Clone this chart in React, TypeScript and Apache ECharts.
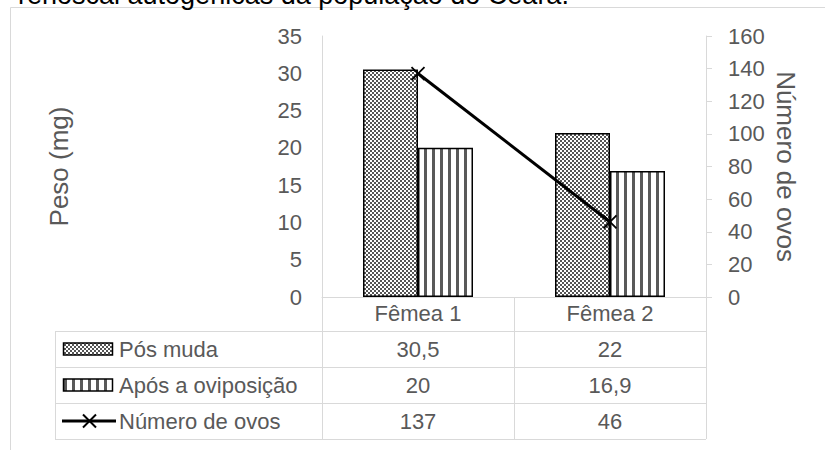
import { useEffect, useRef } from 'react';
import * as echarts from 'echarts';

// ---- data ----
const categories = ['Fêmea 1', 'Fêmea 2'];
const seriesNames = ['Pós muda', 'Após a oviposição', 'Número de ovos'];
const posMuda = [30.5, 22];
const aposOviposicao = [20, 16.9];
const numeroOvos = [137, 46];
const leftAxisName = 'Peso (mg)';
const rightAxisName = 'Número de ovos';
const leftRange = [0, 35, 5];
const rightRange = [0, 160, 20];
const caption = 'renoscal autogênicas da população do Ceará.';

const FONT = '"Liberation Sans", Arial, sans-serif';
const GRAY = '#595959';
const LINE = '#d9d9d9';

function makeChecker(): HTMLCanvasElement {
  const c = document.createElement('canvas');
  c.width = 4;
  c.height = 4;
  const g = c.getContext('2d')!;
  g.fillStyle = '#ffffff';
  g.fillRect(0, 0, 4, 4);
  g.fillStyle = '#555555';
  g.fillRect(0, 0, 2, 2);
  g.fillRect(2, 2, 2, 2);
  return c;
}

function makeStripes(): HTMLCanvasElement {
  const c = document.createElement('canvas');
  c.width = 8;
  c.height = 8;
  const g = c.getContext('2d')!;
  g.fillStyle = '#ffffff';
  g.fillRect(0, 0, 8, 8);
  g.fillStyle = '#595959';
  g.fillRect(0, 0, 3, 8);
  return c;
}

const fmt = (v: number) => String(v).replace('.', ',');

export default function App() {
  const ref = useRef<HTMLDivElement>(null);

  useEffect(() => {
    if (!ref.current) return;
    const chart = echarts.init(ref.current, null, { renderer: 'svg' });
    const checker = makeChecker();
    const stripes = makeStripes();
    const checkerFill: any = { image: checker, repeat: 'repeat' };
    const stripeFill: any = { image: stripes, repeat: 'repeat' };

    const gridLeft = 322;
    const gridRight = 706;
    const gridTop = 36;
    const gridBottom = 297;
    const rowH = 36;
    const headerBottom = 331;
    const tableLeft = 55;
    const tableBottom = headerBottom + rowH * 3;

    chart.setOption({
      animation: false,
      textStyle: { fontFamily: FONT },
      grid: { left: gridLeft, right: 825 - gridRight, top: gridTop, bottom: 450 - gridBottom },
      xAxis: {
        type: 'category',
        data: categories,
        axisLine: { show: true, lineStyle: { color: LINE, width: 1 } },
        axisTick: { show: true, length: tableBottom - gridBottom, lineStyle: { color: LINE, width: 1 } },
        axisLabel: { color: GRAY, fontSize: 22, margin: 5, fontFamily: FONT },
      },
      yAxis: [
        {
          type: 'value',
          min: leftRange[0],
          max: leftRange[1],
          interval: leftRange[2],
          position: 'left',
          name: leftAxisName,
          nameLocation: 'middle',
          nameGap: 250,
          nameRotate: 90,
          nameTextStyle: { fontSize: 26, color: GRAY, fontFamily: FONT },
          axisLine: { show: true, lineStyle: { color: LINE, width: 1 } },
          axisTick: { show: false },
          splitLine: { show: false },
          axisLabel: { color: GRAY, fontSize: 22, margin: 20, fontFamily: FONT },
        },
        {
          type: 'value',
          min: rightRange[0],
          max: rightRange[1],
          interval: rightRange[2],
          position: 'right',
          name: rightAxisName,
          nameLocation: 'middle',
          nameGap: 67,
          nameRotate: -90,
          nameTextStyle: { fontSize: 26, color: GRAY, fontFamily: FONT },
          axisLine: { show: true, lineStyle: { color: LINE, width: 1 } },
          axisTick: { show: true, length: 6, lineStyle: { color: LINE, width: 1 } },
          splitLine: { show: false },
          axisLabel: { color: GRAY, fontSize: 22, margin: 22, fontFamily: FONT },
        },
      ],
      series: [
        {
          type: 'bar',
          name: seriesNames[0],
          data: posMuda,
          barWidth: 55,
          barGap: '0%',
          itemStyle: { color: checkerFill, borderColor: '#000', borderWidth: 1.5 },
        },
        {
          type: 'bar',
          name: seriesNames[1],
          data: aposOviposicao,
          barWidth: 55,
          barGap: '0%',
          itemStyle: { color: stripeFill, borderColor: '#000', borderWidth: 1.5 },
        },
        {
          type: 'line',
          name: seriesNames[2],
          data: numeroOvos,
          yAxisIndex: 1,
          z: 10,
          lineStyle: { color: '#000', width: 3 },
          symbol: 'path://M0,0L10,10M10,0L0,10',
          symbolSize: 13,
          itemStyle: { color: '#000', borderColor: '#000', borderWidth: 1.8 },
        },
      ],
    });

    const cx = categories.map((c) => chart.convertToPixel({ xAxisIndex: 0 }, c) as number);
    const rowValues = [posMuda, aposOviposicao, numeroOvos];
    const graphics: any[] = [];

    graphics.push({
      type: 'rect',
      silent: true,
      z: -10,
      shape: { x: 10.5, y: 7.5, width: 900, height: 600 },
      style: { fill: 'none', stroke: LINE, lineWidth: 1 },
    });
    graphics.push({
      type: 'text',
      silent: true,
      x: 18,
      y: -5,
      style: { text: caption, fontSize: 27, fontFamily: FONT, fill: '#000', textVerticalAlign: 'middle' },
    });

    for (let i = 0; i <= 3; i++) {
      const y = headerBottom + rowH * i + 0.5;
      graphics.push({
        type: 'line',
        silent: true,
        shape: { x1: tableLeft, y1: y, x2: gridRight, y2: y },
        style: { stroke: LINE, lineWidth: 1 },
      });
    }
    graphics.push({
      type: 'line',
      silent: true,
      shape: { x1: tableLeft + 0.5, y1: headerBottom, x2: tableLeft + 0.5, y2: tableBottom },
      style: { stroke: LINE, lineWidth: 1 },
    });

    seriesNames.forEach((name, i) => {
      const cy = headerBottom + rowH * i + rowH / 2;
      if (i === 0 || i === 1) {
        graphics.push({
          type: 'rect',
          silent: true,
          shape: { x: 63.5, y: cy - 6, width: 49, height: 12 },
          style: { fill: i === 0 ? checkerFill : stripeFill, stroke: '#000', lineWidth: 1.5 },
        });
      } else {
        graphics.push({
          type: 'line',
          silent: true,
          shape: { x1: 62, y1: cy, x2: 116, y2: cy },
          style: { stroke: '#000', lineWidth: 3 },
        });
        graphics.push({
          type: 'line',
          silent: true,
          shape: { x1: 83, y1: cy - 6.5, x2: 96, y2: cy + 6.5 },
          style: { stroke: '#000', lineWidth: 2 },
        });
        graphics.push({
          type: 'line',
          silent: true,
          shape: { x1: 83, y1: cy + 6.5, x2: 96, y2: cy - 6.5 },
          style: { stroke: '#000', lineWidth: 2 },
        });
      }
      graphics.push({
        type: 'text',
        silent: true,
        x: 119,
        y: cy,
        style: { text: name, fontSize: 22, fontFamily: FONT, fill: GRAY, textVerticalAlign: 'middle', textAlign: 'left' },
      });
      rowValues[i].forEach((v, j) => {
        graphics.push({
          type: 'text',
          silent: true,
          x: cx[j],
          y: cy,
          style: { text: fmt(v), fontSize: 22, fontFamily: FONT, fill: GRAY, textVerticalAlign: 'middle', textAlign: 'center' },
        });
      });
    });

    chart.setOption({ graphic: graphics });

    return () => chart.dispose();
  }, []);

  return (
    <div
      ref={ref}
      style={{ position: 'fixed', left: 0, top: 0, width: 825, height: 450, background: '#fff' }}
    />
  );
}
